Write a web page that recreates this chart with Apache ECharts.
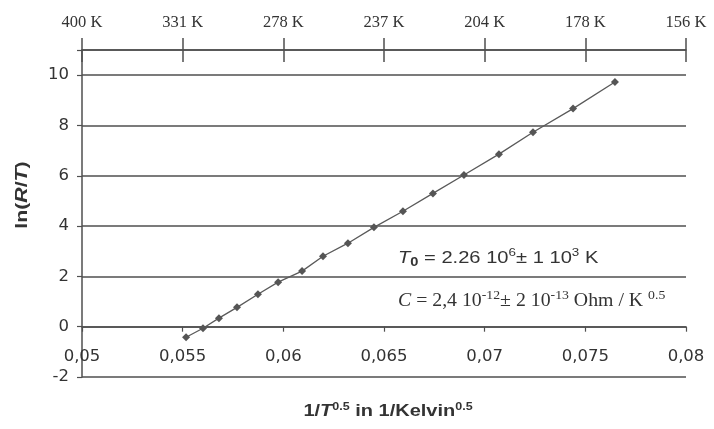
<!DOCTYPE html>
<html>
<head>
<meta charset="utf-8">
<script src="https://cdn.jsdelivr.net/npm/echarts@6/dist/echarts.min.js"></script>
<style>
  html, body { margin: 0; padding: 0; background: #fff; }
  #chart { width: 714px; height: 429px; }
</style>
</head>
<body>
<div id="chart"></div>
<script>
// Measured points: 1/T^0.5 (1/Kelvin^0.5) against ln(R/T)
const invSqrtT = [0.05517, 0.05601, 0.05680, 0.05770, 0.05874, 0.05974, 0.06093, 0.06197,
                  0.06321, 0.06450, 0.06594, 0.06743, 0.06897, 0.07071, 0.07240, 0.07439, 0.07647];
const lnRT = [-0.42, -0.06, 0.34, 0.77, 1.29, 1.77, 2.21, 2.80,
              3.32, 3.95, 4.59, 5.30, 6.03, 6.86, 7.73, 8.67, 9.73];

// Tick labels of the lower (1/T^0.5) and upper (temperature) scales
const xTicks = [0.05, 0.055, 0.06, 0.065, 0.07, 0.075, 0.08];
const tempLabels = ['400 K', '331 K', '278 K', '237 K', '204 K', '178 K', '156 K'];
const yTicks = [-2, 0, 2, 4, 6, 8, 10];

const LINE = '#4f4f4f';
const TEXT = '#333';
const SANS = 'Liberation Sans, Arial, sans-serif';
const WIDE = 'DejaVu Sans, Verdana, sans-serif';
const SERIF = 'Liberation Serif, Times New Roman, serif';

const Y_MIN = -2, Y_MAX = 11;
const GRID = { left: 82, right: 28, top: 50, bottom: 52 };
const plotH = 429 - GRID.top - GRID.bottom;
// the lower axis crosses the value axis at ln(R/T) = 0
const zeroShift = -plotH * (0 - Y_MIN) / (Y_MAX - Y_MIN);

function tickIndex(v) {
  return xTicks.findIndex(t => Math.abs(t - v) < 1e-6);
}

const chart = echarts.init(document.getElementById('chart'));

const xBase = { type: 'value', min: 0.05, max: 0.08, interval: 0.005, gridIndex: 0 };

chart.setOption({
  backgroundColor: '#fff',
  animation: false,
  grid: Object.assign({ containLabel: false }, GRID),
  xAxis: [
    Object.assign({}, xBase, {
      position: 'bottom',
      offset: zeroShift,
      axisLine: { onZero: false, lineStyle: { color: LINE, width: 1.5 } },
      axisTick: { show: true, length: 5, lineStyle: { color: LINE, width: 1.2 } },
      axisLabel: {
        margin: 22, color: TEXT, fontFamily: WIDE, fontSize: 16.5,
        formatter: v => { const i = tickIndex(v); return i < 0 ? '' : String(xTicks[i]).replace('.', ','); }
      },
      splitLine: { show: false }
    }),
    Object.assign({}, xBase, {
      position: 'top',
      axisLine: { onZero: false, lineStyle: { color: LINE, width: 1.5 } },
      axisTick: { show: true, length: 12, lineStyle: { color: LINE, width: 1.5 } },
      axisLabel: {
        margin: 19, color: TEXT, fontFamily: SERIF, fontSize: 16.5,
        formatter: v => { const i = tickIndex(v); return i < 0 ? '' : tempLabels[i]; }
      },
      splitLine: { show: false }
    }),
    Object.assign({}, xBase, {
      position: 'top',
      axisLine: { show: false, onZero: false },
      axisTick: { show: true, inside: true, length: 12, lineStyle: { color: LINE, width: 1.5 } },
      axisLabel: { show: false },
      splitLine: { show: false }
    })
  ],
  yAxis: {
    type: 'value', min: Y_MIN, max: Y_MAX, interval: 2,
    axisLine: { show: true, lineStyle: { color: LINE, width: 1.5 } },
    axisTick: { show: true, length: 5, lineStyle: { color: LINE, width: 1.2 } },
    axisLabel: {
      margin: 13, color: TEXT, fontFamily: WIDE, fontSize: 16.5,
      formatter: v => (yTicks.indexOf(v) < 0 ? '' : String(v))
    },
    splitLine: { show: true, lineStyle: { color: LINE, width: 1.6 } }
  },
  series: [{
    type: 'line',
    xAxisIndex: 0,
    data: invSqrtT.map((x, i) => [x, lnRT[i]]),
    symbol: 'diamond',
    symbolSize: 8,
    itemStyle: { color: '#555' },
    lineStyle: { color: '#5a5a5a', width: 1.3 }
  }],
  graphic: [
    {
      type: 'text', x: 22, y: 195, rotation: Math.PI / 2, scaleX: 1.25,
      style: {
        text: '{b|ln(}{bi|R}{b|/}{bi|T}{b|)}',
        align: 'center', verticalAlign: 'middle',
        rich: {
          b: { fontFamily: SANS, fontWeight: 'bold', fontSize: 17, fill: TEXT },
          bi: { fontFamily: SANS, fontWeight: 'bold', fontStyle: 'italic', fontSize: 17, fill: TEXT }
        }
      }
    },
    {
      type: 'text', x: 388, y: 412, scaleX: 1.25,
      style: {
        text: '{b|1/}{bi|T}{sup|0.5}{b| in 1/Kelvin}{sup|0.5}',
        align: 'center', verticalAlign: 'middle',
        rich: {
          b: { fontFamily: SANS, fontWeight: 'bold', fontSize: 16, fill: TEXT, lineHeight: 20 },
          bi: { fontFamily: SANS, fontWeight: 'bold', fontStyle: 'italic', fontSize: 16, fill: TEXT, lineHeight: 20 },
          sup: { fontFamily: SANS, fontWeight: 'bold', fontSize: 10, fill: TEXT, verticalAlign: 'top', lineHeight: 20 }
        }
      }
    },
    {
      type: 'text', x: 398, y: 258, scaleX: 1.22,
      style: {
        text: '{ti|T}{sub|0}{n| = 2.26 10}{sup|6}{n|\u00b1 1 10}{sup|3}{n| K}',
        align: 'left', verticalAlign: 'middle',
        rich: {
          ti: { fontFamily: SANS, fontStyle: 'italic', fontSize: 16.5, fill: TEXT, lineHeight: 22 },
          n: { fontFamily: SANS, fontSize: 16.5, fill: TEXT, lineHeight: 22 },
          sub: { fontFamily: SANS, fontWeight: 'bold', fontSize: 12, fill: TEXT, verticalAlign: 'bottom', lineHeight: 22 },
          sup: { fontFamily: SANS, fontSize: 11, fill: TEXT, verticalAlign: 'top', lineHeight: 22 }
        }
      }
    },
    {
      type: 'text', x: 398, y: 301, scaleX: 1.1,
      style: {
        text: '{ci|C}{s| = 2,4 10}{sup|-12}{s|\u00b1 2 10}{sup|-13}{s| Ohm / K }{sup|0.5}',
        align: 'left', verticalAlign: 'middle',
        rich: {
          ci: { fontFamily: SERIF, fontStyle: 'italic', fontSize: 18, fill: TEXT, lineHeight: 24 },
          s: { fontFamily: SERIF, fontSize: 18, fill: TEXT, lineHeight: 24 },
          sup: { fontFamily: SERIF, fontSize: 12.5, fill: TEXT, verticalAlign: 'top', lineHeight: 24 }
        }
      }
    }
  ]
});
</script>
</body>
</html>
